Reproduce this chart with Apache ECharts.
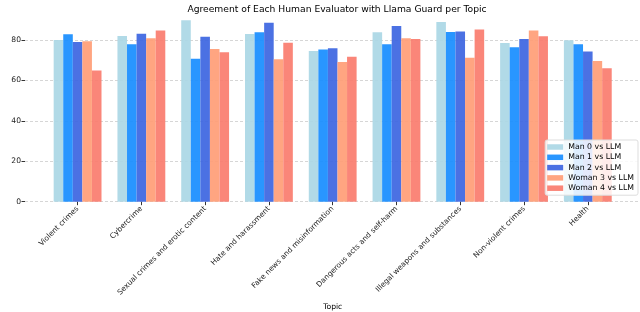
<!DOCTYPE html>
<html><head><meta charset="utf-8">
<script src="https://cdn.jsdelivr.net/npm/echarts@6/dist/echarts.min.js"></script>
<style>html,body{margin:0;padding:0;background:#fff}#c{width:640px;height:312px}</style>
</head><body><div id="c"></div>
<script>
const categories = ["Violent crimes","Cybercrime","Sexual crimes and erotic content","Hate and harassment","Fake news and misinformation","Dangerous acts and self-harm","Illegal weapons and substances","Non-violent crimes","Health"];
const seriesNames = ["Man 0 vs LLM","Man 1 vs LLM","Man 2 vs LLM","Woman 3 vs LLM","Woman 4 vs LLM"];
const man0 = [80.0, 82.0, 89.8, 83.0, 74.6, 83.9, 89.0, 78.6, 79.9];
const man1 = [82.9, 77.9, 70.8, 83.9, 75.4, 77.9, 84.0, 76.4, 77.9];
const man2 = [79.1, 83.2, 81.7, 88.6, 75.9, 87.0, 84.3, 80.5, 74.4];
const woman3 = [79.4, 80.9, 75.6, 70.5, 69.2, 80.9, 71.3, 84.8, 69.7];
const woman4 = [64.9, 84.7, 74.0, 78.7, 71.8, 80.5, 85.3, 81.9, 66.0];
const yTicks = [0, 20, 40, 60, 80];
const colors = ["#add8e6","#1e90ff","#4169e1","#ffa07a","#fa8072"];
const values = [man0, man1, man2, woman3, woman4];
const FONT = "DejaVu Sans";
const Y_MAX = 94.5;
const chart = echarts.init(document.getElementById('c'));
chart.setOption({
  animation: false,
  title: {text: "Agreement of Each Human Evaluator with Llama Guard per Topic", left: 332, textAlign: 'center', top: 0,
    textStyle: {fontFamily: FONT, fontSize: 9.2, fontWeight: 'normal', color: '#000'}},
  grid: [
    {left: 25, right: 0, top: 10.8, bottom: 110.3, containLabel: false, outerBoundsMode: 'none'},
    {left: 45.7, right: 20.3, top: 10.8, bottom: 110.3, containLabel: false, outerBoundsMode: 'none'}
  ],
  legend: {
    right: 2, top: 140, orient: 'vertical', itemWidth: 16, itemHeight: 5.5, itemGap: 2.3,
    backgroundColor: 'rgba(255,255,255,0.85)', borderColor: '#ddd', borderWidth: 1, borderRadius: 2,
    padding: [3, 4, 3, 2],
    textStyle: {fontFamily: FONT, fontSize: 7.8, color: '#000'},
    icon: 'rect',
    data: seriesNames
  },
  xAxis: [
    {type: 'value', gridIndex: 0, min: 0, max: 1, show: false},
    {
      type: 'category', gridIndex: 1, data: categories, name: 'Topic', nameLocation: 'middle', nameGap: 101,
      nameTextStyle: {fontFamily: FONT, fontSize: 7.6, color: '#000'},
      axisLine: {show: false}, axisTick: {show: true, length: 3.5, alignWithLabel: true, lineStyle: {color: '#333'}},
      axisLabel: {rotate: 45, fontFamily: FONT, fontSize: 7.4, color: '#222', margin: 6, interval: 0},
      splitLine: {show: false}
    }
  ],
  yAxis: [
    {
      type: 'value', gridIndex: 0, min: 0, max: Y_MAX, interval: 20,
      name: 'Agreement Percentage', nameLocation: 'middle', nameGap: 17,
      nameTextStyle: {fontFamily: FONT, fontSize: 7.6, color: '#000'},
      axisLine: {show: false}, axisTick: {show: true, length: 3.5, lineStyle: {color: '#333'}},
      axisLabel: {fontFamily: FONT, fontSize: 7.6, color: '#222', margin: 4, showMaxLabel: false,
        formatter: v => (yTicks.indexOf(v) >= 0 ? String(v) : '')},
      splitLine: {show: true, showMaxLine: false, lineStyle: {color: '#ccc', type: [3, 2], width: 0.8}}
    },
    {type: 'value', gridIndex: 1, min: 0, max: Y_MAX, show: false, splitLine: {show: false}}
  ],
  series: seriesNames.map((n, i) => ({
    name: n, type: 'bar', xAxisIndex: 1, yAxisIndex: 1, data: values[i], barGap: '0%', barCategoryGap: '25%',
    itemStyle: {color: colors[i], opacity: 0.95}
  }))
});
</script></body></html>
